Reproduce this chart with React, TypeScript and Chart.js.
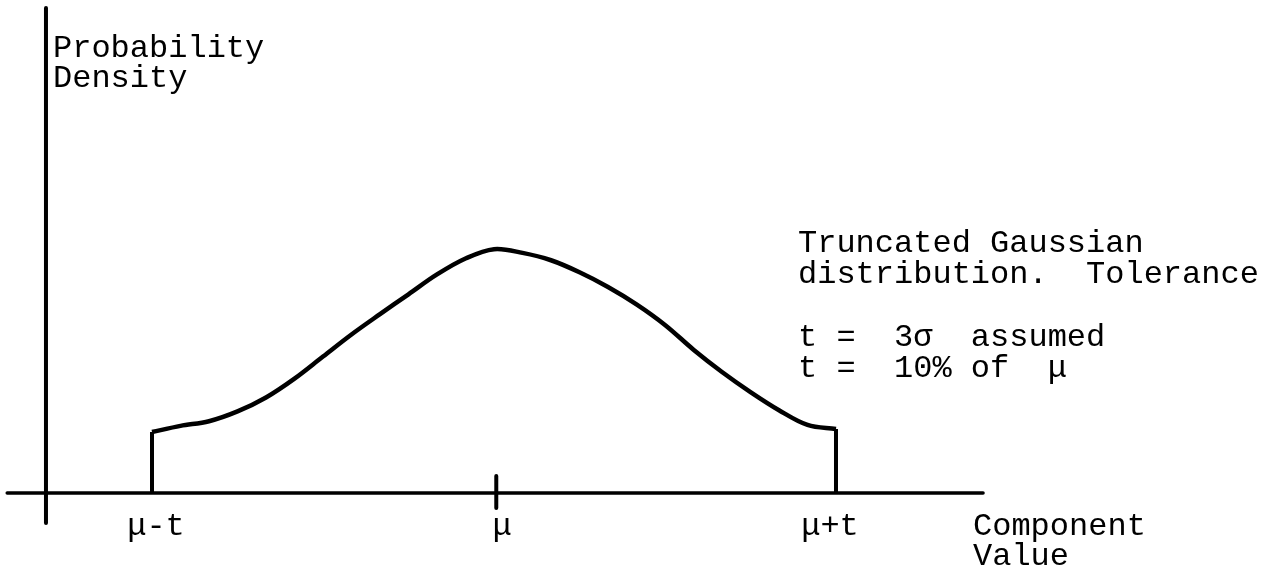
import React, { useEffect, useRef } from "react";
import { Chart, registerables } from "chart.js";

Chart.register(...registerables);

// Component value in units of sigma about the mean (t = 3 sigma)
const CURVE_X = [-3, -2.75, -2.5, -2.25, -2, -1.75, -1.5, -1.25, -1, -0.75, -0.5, -0.25, 0, 0.25, 0.5, 0.75, 1, 1.25, 1.5, 1.75, 2, 2.25, 2.5, 2.75, 3];
// Relative probability density (peak ~ 1)
const CURVE_Y = [0.249, 0.274, 0.293, 0.333, 0.39, 0.467, 0.557, 0.647, 0.73, 0.811, 0.892, 0.957, 0.995, 0.98, 0.95, 0.901, 0.841, 0.77, 0.686, 0.585, 0.494, 0.412, 0.338, 0.278, 0.261];

const TICK_VALUES = [-3, 0, 3];
const TICK_LABELS = ["\u03bc-t", "\u03bc", "\u03bc+t"];

const Y_TITLE = ["Probability", "Density"];
const X_TITLE = ["Component", "Value"];
const NOTE_LINES = ["Truncated Gaussian", "distribution.  Tolerance", "", "t =  3\u03c3  assumed", "t =  10% of  \u03bc"];

const FONT = '32px "Liberation Mono", "DejaVu Sans Mono", monospace';
const LABEL_DX = [4, 8, -6];

const axesAndText = {
  id: "axesAndText",
  beforeDatasetsDraw(chart: any) {
    const { ctx, scales } = chart;
    const xs = scales.x;
    const ys = scales.y;
    ctx.save();
    ctx.strokeStyle = "#000";
    ctx.lineCap = "round";
    // y axis
    ctx.lineWidth = 4;
    ctx.beginPath();
    ctx.moveTo(xs.getPixelForValue(-3.93), ys.getPixelForValue(1.98));
    ctx.lineTo(xs.getPixelForValue(-3.93), ys.getPixelForValue(-0.122));
    ctx.stroke();
    // x axis
    ctx.lineWidth = 3.5;
    ctx.beginPath();
    ctx.moveTo(xs.getPixelForValue(-4.27), ys.getPixelForValue(0));
    ctx.lineTo(xs.getPixelForValue(4.29), ys.getPixelForValue(0));
    ctx.stroke();
    // tick at mu
    ctx.lineWidth = 4;
    ctx.beginPath();
    ctx.moveTo(xs.getPixelForValue(0.02), ys.getPixelForValue(0.069));
    ctx.lineTo(xs.getPixelForValue(0.02), ys.getPixelForValue(-0.061));
    ctx.stroke();
    ctx.restore();
  },
  afterDatasetsDraw(chart: any) {
    const { ctx, scales } = chart;
    const xs = scales.x;
    ctx.save();
    ctx.fillStyle = "#000";
    ctx.font = FONT;
    ctx.textBaseline = "alphabetic";
    ctx.textAlign = "center";
    TICK_VALUES.forEach((v, i) => {
      ctx.fillText(TICK_LABELS[i], xs.getPixelForValue(v) + LABEL_DX[i], 535);
    });
    ctx.textAlign = "left";
    Y_TITLE.forEach((t, i) => ctx.fillText(t, 53, 57 + i * 30));
    X_TITLE.forEach((t, i) => ctx.fillText(t, 973, 535 + i * 30));
    NOTE_LINES.forEach((t, i) => ctx.fillText(t, 798, 252 + i * 31.3));
    ctx.restore();
  },
};

export default function App() {
  const ref = useRef<HTMLCanvasElement>(null);
  useEffect(() => {
    if (!ref.current) return;
    const curve = CURVE_X.map((x, i) => ({ x, y: CURVE_Y[i] }));
    const n = CURVE_X.length - 1;
    const chart = new Chart(ref.current, {
      type: "line",
      data: {
        datasets: [
          {
            data: curve,
            borderColor: "#000",
            borderWidth: 4.5,
            pointRadius: 0,
            tension: 0.35,
            fill: false,
          },
          {
            data: [{ x: CURVE_X[0], y: 0 }, { x: CURVE_X[0], y: CURVE_Y[0] }],
            borderColor: "#000",
            borderWidth: 4,
            pointRadius: 0,
            tension: 0,
          },
          {
            data: [{ x: CURVE_X[n], y: CURVE_Y[n] }, { x: CURVE_X[n], y: 0 }],
            borderColor: "#000",
            borderWidth: 4,
            pointRadius: 0,
            tension: 0,
          },
        ],
      },
      options: {
        animation: false,
        responsive: false,
        maintainAspectRatio: false,
        layout: { padding: 0 },
        plugins: { legend: { display: false }, tooltip: { enabled: false }, title: { display: false } },
        scales: {
          x: { type: "linear", min: -4.3333, max: 6.8246, display: false },
          y: { type: "linear", min: -0.3265, max: 2.0122, display: false },
        },
      },
      plugins: [axesAndText],
    });
    return () => chart.destroy();
  }, []);
  return (
    <div style={{ position: "fixed", left: 0, top: 0, width: 1272, height: 573, background: "#fff" }}>
      <canvas ref={ref} width={1272} height={573} />
    </div>
  );
}
